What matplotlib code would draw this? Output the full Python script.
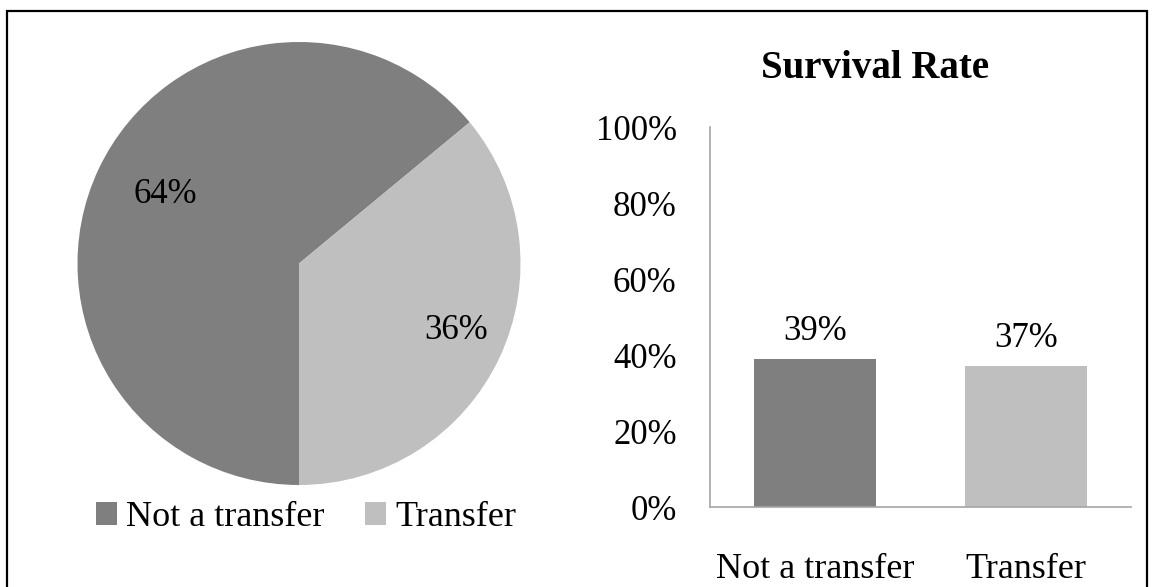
import numpy as np
import matplotlib.pyplot as plt
from matplotlib.patches import Rectangle, Patch

plt.rcParams['font.family'] = ['Liberation Serif', 'DejaVu Serif']

# data
categories = ['Not a transfer', 'Transfer']
share = [64, 36]          # pie: share of students
survival = [39, 37]       # bar: survival rate (%)
yticks = [0, 20, 40, 60, 80, 100]
colors = ['#7f7f7f', '#bfbfbf']

W, H = 1152, 587
fig = plt.figure(figsize=(W / 100, H / 100), dpi=100)
fs = 25

# ─── PIE ────────────────────────────────────────────────────────────────────
ax1 = fig.add_axes([77.5 / W, (H - 485) / H, 443 / W, 443 / H])
wedges, _, autotexts = ax1.pie(share, colors=colors, startangle=-90, counterclock=False,
                               autopct='%1.0f%%', pctdistance=0.72,
                               textprops={'fontsize': fs, 'color': 'black'})
# nudge percentage labels along each wedge's bisector
for w, t, d, off in zip(wedges, autotexts, [0.68, 0.77], [-2, 2]):
    ang = np.deg2rad((w.theta1 + w.theta2) / 2 + off)
    t.set_position((d * np.cos(ang), d * np.sin(ang)))
ax1.set_xlim(-1, 1)
ax1.set_ylim(-1, 1)
ax1.set_aspect('equal')

handles = [Patch(facecolor=c, edgecolor='none') for c in colors]
fig.legend(handles, categories, loc='center', bbox_to_anchor=(306 / W, (H - 518) / H),
           ncol=2, frameon=False, fontsize=26, handlelength=0.6, handleheight=0.6,
           handletextpad=0.25, columnspacing=1.1, borderpad=0)

# ─── BAR ────────────────────────────────────────────────────────────────────
ax2 = fig.add_axes([710 / W, (H - 507) / H, 421 / W, 380 / H])
x = list(range(len(categories)))
bars = ax2.bar(x, survival, width=0.58, color=colors)
ax2.bar_label(bars, labels=[f'{v}%' for v in survival], padding=8, fontsize=fs)
ax2.set_xlim(-0.5, 1.5)
ax2.set_ylim(0, 100)
ax2.set_yticks(yticks)
ax2.set_yticklabels([f'{t}%' for t in yticks], fontsize=fs)
ax2.set_xticks(x)
ax2.set_xticklabels(categories, fontsize=26)
ax2.tick_params(axis='y', length=0, pad=24)
ax2.tick_params(axis='x', length=0, pad=33)
for s in ['top', 'right']:
    ax2.spines[s].set_visible(False)
for s in ['left', 'bottom']:
    ax2.spines[s].set_color('#a6a6a6')
    ax2.spines[s].set_linewidth(1.2)

fig.text(875 / W, (H - 68) / H, 'Survival Rate', ha='center', va='center',
         fontsize=28, fontweight='bold')

# outer border (bottom edge runs off the canvas, as in the source)
fig.patches.append(Rectangle((7 / W, -4 / H), 1140 / W, 580 / H, transform=fig.transFigure,
                             fill=False, edgecolor='black', linewidth=1.6))

fig.savefig('out.png', dpi=100)
